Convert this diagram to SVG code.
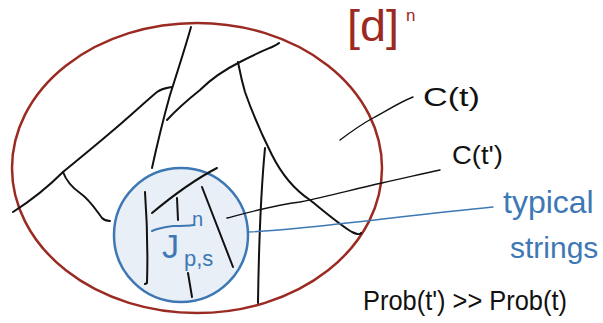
<svg xmlns="http://www.w3.org/2000/svg" width="603" height="323" viewBox="0 0 603 323">
<style>
.sk{fill:none;stroke:#111;stroke-width:2;stroke-linecap:round;stroke-linejoin:round}
.lead{fill:none;stroke:#111;stroke-width:1.4;stroke-linecap:round}
.hand{font-family:"Liberation Sans","DejaVu Sans",sans-serif}
.red{fill:#9b2a22}
.blue{fill:#3d78b5}
.blk{fill:#111}
</style>
<rect width="603" height="323" fill="#fff"/>
<g id="space">
<ellipse cx="197" cy="168" rx="185" ry="145" fill="none" stroke="#9b2a22" stroke-width="2.5"/>
<text class="hand red" x="347" y="41" font-size="44" textLength="52" lengthAdjust="spacingAndGlyphs">[d]</text>
<text class="hand red" x="406" y="21" font-size="17">n</text>
</g>
<g id="strokes">
<path class="sk" d="M191,27 C186,45 178,70 170,95 C163,120 157,145 152,168"/>
<path class="sk" d="M13,212 C35,198 50,185 63,172 C80,158 96,145 110,133 C128,118 145,102 157,92 C163,88 168,88 172,87"/>
<path class="sk" d="M63,172 C66,180 70,186 80,193 C90,200 96,210 102,218 C105,221 108,221 110,221"/>
<path class="sk" d="M167,120 C178,108 190,98 200,90 C210,80 220,72 240,62 C255,54 265,50 272,47 C276,45 278,44 279,43" stroke-width="2.4"/>
<path class="sk" d="M238,62 C240,72 241,78 245,92 C252,112 262,135 272,155 C282,175 295,190 310,200 C325,212 340,225 352,232 C356,234 360,235 361,233"/>
<path class="sk" d="M265,148 C262,180 259,230 258,303"/>
</g>
<g id="typical-set">
<circle cx="181" cy="235" r="67" fill="#e9eff6" stroke="#3d78b5" stroke-width="2.5"/>
<path class="sk" d="M145,192 C147,220 148,250 147,283 L145,284"/>
<path class="sk" d="M152,213 C170,198 190,182 217,168"/>
<path class="sk" d="M177,198 L178,220"/>
<path class="sk" d="M188,273 L192,297"/>
<path class="sk" d="M202,187 L233,267"/>
<path d="M152,231 C158,228 165,227 173,226 C180,226 187,226 194,225" fill="none" stroke="#3d78b5" stroke-width="2" stroke-linecap="round"/>
<text class="hand blue" x="162" y="258" font-size="34">J</text>
<text class="hand blue" x="192" y="226" font-size="20">n</text>
<text class="hand blue" x="184" y="266" font-size="22">p,s</text>
</g>
<g id="connectors">
<path class="lead" d="M340,140 C352,131 362,124 373,118 C388,110 400,102 413,97"/>
<path class="lead" d="M227,218 C250,212 275,205 300,202 C330,196 358,188 382,183 C405,178 425,173 440,170"/>
<path d="M248,232 C270,231 290,229 300,228 C360,222 430,213 493,207" fill="none" stroke="#3d78b5" stroke-width="1.4" stroke-linecap="round"/>
</g>
<g id="labels">
<text class="hand blk" x="423" y="106" font-size="26" textLength="57" lengthAdjust="spacingAndGlyphs">C(t)</text>
<text class="hand blk" x="452" y="164" font-size="26" textLength="51" lengthAdjust="spacingAndGlyphs">C(t')</text>
<text class="hand blue" x="503" y="213" font-size="32">typical</text>
<text class="hand blue" x="510" y="258" font-size="30">strings</text>
<text class="hand blk" x="363" y="310" font-size="28" textLength="204" lengthAdjust="spacingAndGlyphs">Prob(t') &gt;&gt; Prob(t)</text>
</g>
</svg>
